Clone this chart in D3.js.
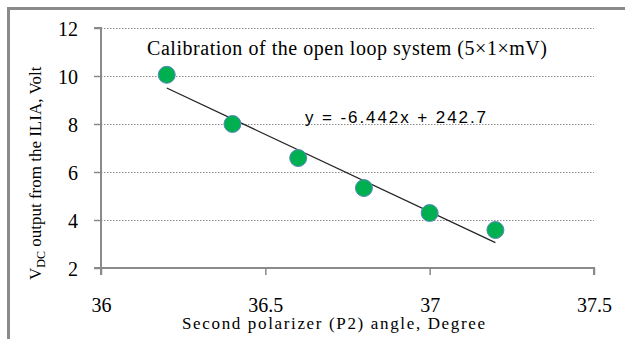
<!DOCTYPE html>
<html>
<head>
<meta charset="utf-8">
<script src="https://cdn.jsdelivr.net/npm/d3@7"></script>
<style>
  body { margin: 0; background: #fff; }
  svg text.serif { font-family: "Liberation Serif", "DejaVu Serif", serif; fill: #000; }
  svg text.sans { font-family: "Liberation Sans", "DejaVu Sans", sans-serif; fill: #000; }
  .grid-line { stroke: #8c8c8c; stroke-width: 1; stroke-dasharray: 1.5 1.5; }
</style>
</head>
<body>
<div class="module-graph"></div>
<script>
"use strict"

// data
const angles = [36.2, 36.4, 36.6, 36.8, 37.0, 37.2];
const volts = [10.05, 8.0, 6.58, 5.33, 4.29, 3.58];
const xTicks = [36, 36.5, 37, 37.5];
const yTicks = [2, 4, 6, 8, 10, 12];
const fitSlope = -6.442;
const fitIntercept = 242.7;
const fitRange = [36.2, 37.2];

const width = 625,
    height = 339;
const plotLeft = 101, plotRight = 594, plotTop = 28, plotBottom = 268;

const svg = d3.select("div.module-graph").append("svg")
    .attr("width", width)
    .attr("height", height);

// outer frame (only top/left edges visible)
svg.append("path")
    .attr("d", "M8.5," + height + " V8.5 H" + width)
    .attr("fill", "none")
    .attr("stroke", "#8a8a8a")
    .attr("stroke-width", 3);

const scaleX = d3.scaleLinear().domain([36, 37.5]).range([plotLeft, plotRight]);
const scaleY = d3.scaleLinear().domain([2, 12]).range([plotBottom, plotTop]);

// grid
svg.selectAll("line.grid-line")
    .data(yTicks.filter(d => d > 2))
    .enter().append("line")
    .attr("class", "grid-line")
    .attr("x1", plotLeft).attr("x2", plotRight)
    .attr("y1", d => scaleY(d) + 0.5).attr("y2", d => scaleY(d) + 0.5);

const yAxis = svg.append("g")
    .attr("transform", "translate(" + plotLeft + ",0)")
    .call(d3.axisLeft(scaleY).tickValues(yTicks).tickSize(7).tickPadding(16));
const xAxis = svg.append("g")
    .attr("transform", "translate(0," + plotBottom + ")")
    .call(d3.axisBottom(scaleX).tickValues(xTicks).tickSize(7).tickPadding(23)
        .tickFormat(d3.format("")));

[xAxis, yAxis].forEach(a => {
    a.attr("font-family", "Liberation Serif").attr("font-size", 20);
    a.select(".domain").attr("stroke", "#8a8a8a").attr("stroke-width", 2);
    a.selectAll(".tick line").attr("stroke", "#8a8a8a").attr("stroke-width", 1.5);
    a.selectAll(".tick text")
        .attr("class", "serif")
        .style("font-size", "20px")
        .attr("fill", "#000");
});
yAxis.selectAll(".tick text").attr("dy", "0.35em");
yAxis.select(".domain").attr("d", "M-7," + plotBottom + "H0V" + plotTop + "H-7");
xAxis.select(".domain").attr("d", "M" + plotLeft + ",7V0H" + plotRight + "V7");

// trendline
const line = d3.line()
    .x(d => scaleX(d))
    .y(d => scaleY(fitSlope * d + fitIntercept));
svg.append("path")
    .attr("d", line(fitRange))
    .attr("fill", "none")
    .attr("stroke", "#222")
    .attr("stroke-width", 1.2);

// points
svg.selectAll("circle.dot")
    .data(angles)
    .enter().append("circle")
    .attr("class", "dot")
    .attr("cx", d => scaleX(d))
    .attr("cy", (d, i) => scaleY(volts[i]))
    .attr("r", 8.5)
    .attr("fill", "#00b050")
    .attr("stroke", "#5b86c0")
    .attr("stroke-width", 1);

// texts
svg.append("text")
    .attr("class", "serif")
    .attr("x", 147).attr("y", 55)
    .attr("textLength", 400)
    .style("font-size", "20px")
    .text("Calibration of the open loop system (5×1×mV)");

svg.append("text")
    .attr("class", "sans")
    .attr("x", 305).attr("y", 123)
    .attr("textLength", 181)
    .style("font-size", "17px")
    .text("y = -6.442x + 242.7");

svg.append("text")
    .attr("class", "serif")
    .attr("x", 182).attr("y", 329)
    .attr("textLength", 303)
    .style("font-size", "17px")
    .text("Second polarizer (P2) angle, Degree");

const yLabel = svg.append("text")
    .attr("class", "serif")
    .attr("transform", "translate(41,280) rotate(-90)")
    .style("font-size", "17px");
yLabel.append("tspan").text("V");
yLabel.append("tspan").attr("dy", 4).style("font-size", "12px").text("DC");
yLabel.append("tspan").attr("dy", -4).text(" output from the ILIA, Volt");
</script>
</body>
</html>
